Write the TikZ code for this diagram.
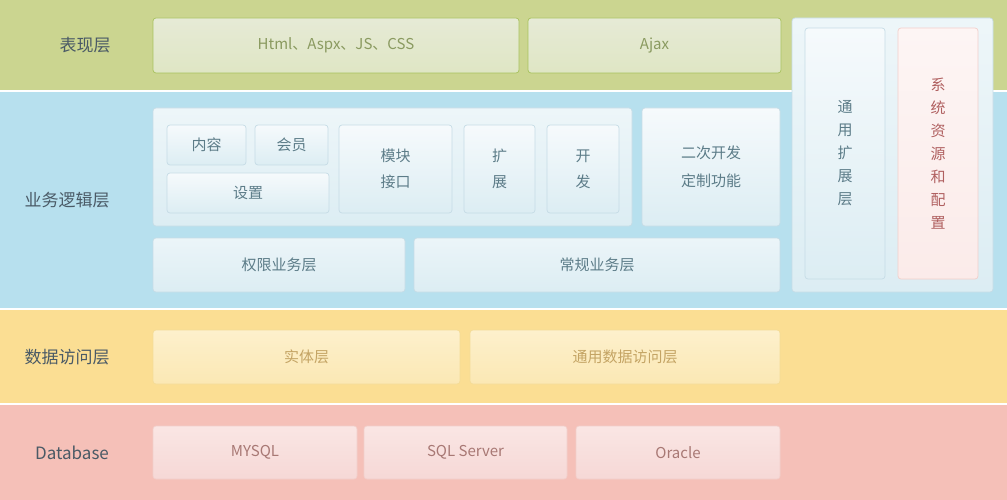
\documentclass[tikz,border=0pt]{standalone}
\usepackage{fontspec}
\setmainfont{Noto Sans CJK SC}
\begin{document}
\begin{tikzpicture}[x=1pt,y=-1pt,
  bx/.style={rounded corners=3pt, line width=0.7pt, font=\fontsize{15}{18}\selectfont},
  green/.style={bx, draw=lgb, top color=gtop, bottom color=gbot, text=gtx},
  blue/.style={bx, draw=bbd, top color=btop, bottom color=bbot, text=btx},
  yel/.style={bx, draw=ybd, top color=ytop, bottom color=ybot, text=ytx},
  red/.style={bx, draw=rbd, top color=rtop, bottom color=rbot, text=rtx},
  lbl/.style={font=\fontsize{17}{20}\selectfont, text=lab}]
\definecolor{lgb}{HTML}{A8C25E}\definecolor{gtop}{HTML}{E6EAD6}\definecolor{gbot}{HTML}{DFE6C4}\definecolor{gtx}{HTML}{8A9A60}
\definecolor{bbd}{HTML}{C6DCE6}\definecolor{btop}{HTML}{F6FAFC}\definecolor{bbot}{HTML}{DCEDF3}\definecolor{btx}{HTML}{5C7C88}
\definecolor{ybd}{HTML}{F4DC98}\definecolor{ytop}{HTML}{FDF0CC}\definecolor{ybot}{HTML}{FBE8B4}\definecolor{ytx}{HTML}{C4A464}
\definecolor{rbd}{HTML}{F2CFCB}\definecolor{rtop}{HTML}{FAE6E4}\definecolor{rbot}{HTML}{F6D8D6}\definecolor{rtx}{HTML}{A87874}
\definecolor{lab}{HTML}{4A5A66}\definecolor{xtc}{HTML}{B06060}
\definecolor{c1}{HTML}{CBD590}\definecolor{c2}{HTML}{B7E0EE}\definecolor{c3}{HTML}{FBDE93}\definecolor{c4}{HTML}{F5C0B8}
\useasboundingbox (0,0) rectangle (1007,500);
\fill[c1] (0,0) rectangle (1007,90);
\fill[c2] (0,92) rectangle (1007,308);
\fill[c3] (0,310) rectangle (1007,403);
\fill[c4] (0,405) rectangle (1007,500);
\node[lbl] (l1) at (85,45) {表现层};
\node[lbl] (l2) at (67,200) {业务逻辑层};
\node[lbl] (l3) at (67,357) {数据访问层};
\node[lbl] (l4) at (72,453) {Database};
% green
\node[green, minimum width=366, minimum height=55] (html) at (336,45.5) {Html、Aspx、JS、CSS};
\node[green, minimum width=253, minimum height=55] (ajax) at (654.5,45.5) {Ajax};
% right panel
\node[blue, top color=bbot!50!white, bottom color=bbot, minimum width=201, minimum height=274] (rp) at (892.5,155) {};
\node[blue, minimum width=80, minimum height=251, align=center, font=\fontsize{15}{23}\selectfont] (ty) at (845,153.5) {通\\用\\扩\\展\\层};
\node[red, top color=white!60!rtop, bottom color=rtop!80!white, text=xtc, minimum width=80, minimum height=251, align=center, font=\fontsize{15}{23}\selectfont] (xt) at (938,153.5) {系\\统\\资\\源\\和\\配\\置};
% business
\node[blue, top color=bbot!50!white, minimum width=479, minimum height=118] (biz) at (392.5,167) {};
\node[blue, minimum width=79, minimum height=40] (nr) at (206.5,145) {内容};
\node[blue, minimum width=73, minimum height=40] (hy) at (291.5,145) {会员};
\node[blue, minimum width=162, minimum height=40] (sz) at (248,193) {设置};
\node[blue, minimum width=113, minimum height=88, align=center, font=\fontsize{15}{26}\selectfont] (mk) at (395.5,169) {模块\\接口};
\node[blue, minimum width=71, minimum height=88, align=center, font=\fontsize{15}{26}\selectfont] (kz) at (499.5,169) {扩\\展};
\node[blue, minimum width=72, minimum height=88, align=center, font=\fontsize{15}{26}\selectfont] (kf) at (583,169) {开\\发};
\node[blue, minimum width=138, minimum height=118, align=center, font=\fontsize{15}{28}\selectfont] (ec) at (711,167) {二次开发\\定制功能};
\node[blue, top color=btop!60!bbot, minimum width=252, minimum height=54] (qx) at (279,265) {权限业务层};
\node[blue, top color=btop!60!bbot, minimum width=366, minimum height=54] (cg) at (597,265) {常规业务层};
% data
\node[yel, minimum width=307, minimum height=54] (st) at (306.5,357) {实体层};
\node[yel, minimum width=310, minimum height=54] (ty2) at (625,357) {通用数据访问层};
% db
\node[red, minimum width=204, minimum height=53] (my) at (255,452.5) {MYSQL};
\node[red, minimum width=203, minimum height=53] (ss) at (465.5,452.5) {SQL Server};
\node[red, minimum width=204, minimum height=53] (or) at (678,452.5) {Oracle};
\end{tikzpicture}
\end{document}
